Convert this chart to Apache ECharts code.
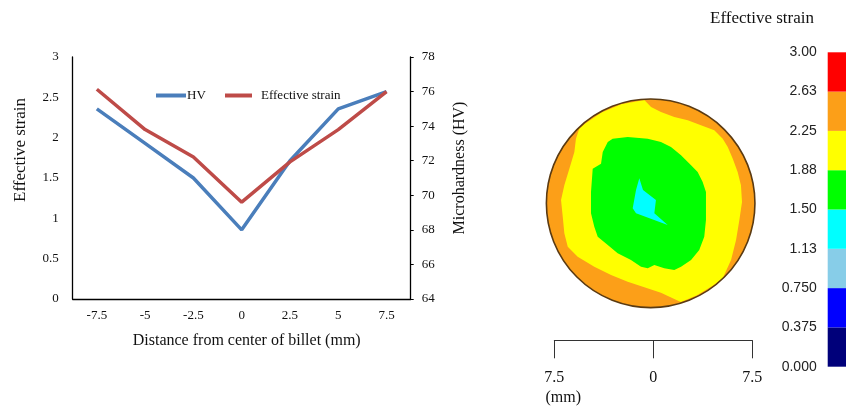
<!DOCTYPE html>
<html>
<head>
<meta charset="utf-8">
<script src="https://cdn.jsdelivr.net/npm/echarts@6/dist/echarts.min.js"></script>
<style>
  html, body { margin: 0; padding: 0; background: #fff; }
  #chart { width: 856px; height: 408px; }
</style>
</head>
<body>
<div id="chart"></div>
<script>
// ---- Profile across the billet ----
const positions = ['-7.5', '-5', '-2.5', '0', '2.5', '5', '7.5'];
const hardnessHV = [75, 73, 71, 68, 72, 75, 76];
const effectiveStrain = [2.6, 2.1, 1.76, 1.2, 1.7, 2.1, 2.57];

// ---- Colour scale for the strain map ----
const binEdges = [0, 0.375, 0.75, 1.125, 1.5, 1.875, 2.25, 2.625, 3.0];
const binColors = ['#00007a', '#0000ff', '#87cde8', '#00ffff', '#00ff00', '#ffff00', '#fc9f18', '#ff0000'];
const scaleLabels = ['0.000', '0.375', '0.750', '1.13', '1.50', '1.88', '2.25', '2.63', '3.00'];

// ---- Strain map of the billet cross-section (mm) ----
const diskCenter = [-0.2, 0];
const diskRadius = 7.9;
const diskLevel = 2.44;

const yellowZone = [
  [-5.15, 6.05], [-3.92, 6.88], [-2.43, 7.5], [-0.68, 7.82], [-0.17, 7.3], [0.58, 6.92],
  [1.59, 6.54], [2.61, 6.29], [3.61, 5.91], [4.62, 5.53], [5.26, 4.89], [5.64, 4.27],
  [6.02, 3.38], [6.39, 2.37], [6.64, 1.36], [6.72, 0.1], [6.52, -1.27], [6.27, -2.78],
  [5.89, -4.3], [5.26, -5.68], [4.5, -6.25], [3.28, -6.98], [2.08, -7.48], [1.47, -7.2],
  [0.58, -6.77], [-0.68, -6.36], [-1.94, -5.94], [-3.2, -5.43], [-4.47, -4.8], [-5.73, -4.05],
  [-6.48, -3.29], [-6.74, -2.27], [-6.86, -1.02], [-6.99, 0.25], [-6.74, 1.36], [-6.36, 2.62],
  [-5.98, 3.89], [-5.86, 4.89], [-5.61, 5.65]
];
const yellowLevel = 2.06;

const greenZone = [
  [-4.72, -0.05], [-4.72, 0.86], [-4.59, 2.62], [-3.96, 3.0], [-3.83, 3.89], [-3.45, 4.64],
  [-3.08, 4.89], [-1.94, 5.02], [-0.42, 4.89], [0.58, 4.64], [1.34, 4.27], [2.1, 3.64],
  [2.86, 2.88], [3.36, 2.37], [3.74, 1.61], [3.99, 0.86], [3.99, -0.05], [3.99, -1.27],
  [3.86, -2.53], [3.48, -3.54], [2.86, -4.3], [2.1, -4.8], [1.59, -5.05], [0.83, -4.92],
  [0.08, -4.67], [-0.42, -4.92], [-0.93, -4.8], [-1.69, -4.3], [-2.7, -3.79], [-3.45, -3.16],
  [-4.21, -2.53], [-4.47, -1.77], [-4.72, -0.76]
];
const greenLevel = 1.69;

const cyanZone = [
  [-1.06, 1.89], [-0.78, 1.01], [0.2, 0.25], [0.08, -0.76], [1.09, -1.64],
  [-1.31, -0.76], [-1.56, -0.38], [-1.31, 1.01]
];
const cyanLevel = 1.31;

const zones = [yellowZone, greenZone, cyanZone];
const zoneLevels = [yellowLevel, greenLevel, cyanLevel];

function levelColor(v) {
  for (let i = 0; i < binColors.length; i++) {
    if (v >= binEdges[i] && v < binEdges[i + 1]) return binColors[i];
  }
  return binColors[binColors.length - 1];
}

const serif = '"Liberation Serif", "Times New Roman", serif';
const sans = '"Liberation Sans", Arial, sans-serif';
const ink = '#111';

const chart = echarts.init(document.getElementById('chart'), null, { renderer: 'canvas' });

// item 0 = disk, 1..n = zones, last = disk outline
const mapItems = [[0, 0, 0]].concat(zones.map((z, i) => [0, 0, i + 1])).concat([[0, 0, zones.length + 1]]);

chart.setOption({
  animation: false,
  backgroundColor: '#fff',
  title: {
    text: 'Effective strain',
    left: 705, top: 5,
    textStyle: { fontFamily: serif, fontSize: 17, fontWeight: 'normal', color: ink }
  },
  legend: [
    {
      data: ['HV'], left: 151, top: 84, icon: 'rect', itemWidth: 30, itemHeight: 4,
      textStyle: { fontFamily: serif, fontSize: 13, color: ink, padding: [0, 0, 0, -4] }
    },
    {
      data: ['Effective strain'], left: 220, top: 84, icon: 'rect', itemWidth: 27, itemHeight: 4,
      textStyle: { fontFamily: serif, fontSize: 13, color: ink, padding: [0, 0, 0, 4] }
    }
  ],
  grid: [
    { left: 72.7, right: 445.3, top: 57, bottom: 109 },
    { left: 554.3, width: 198, top: 104.3, height: 198 },
    { left: 827.7, width: 18.3, top: 52.3, height: 314.4 }
  ],
  xAxis: [
    {
      gridIndex: 0, type: 'category', data: positions, boundaryGap: true,
      axisLine: { lineStyle: { color: '#000', width: 1.3 } },
      axisTick: { show: false },
      axisLabel: { fontFamily: serif, fontSize: 13, color: ink, margin: 10 },
      splitLine: { show: false },
      name: 'Distance from center of billet (mm)', nameLocation: 'middle', nameGap: 34,
      nameTextStyle: { fontFamily: serif, fontSize: 16, color: ink, padding: [0, 0, 0, 10] }
    },
    {
      // length scale under the map
      gridIndex: 1, type: 'value', min: -7.5, max: 7.5, interval: 7.5, position: 'bottom', offset: 38,
      axisLine: { show: true, onZero: false, lineStyle: { color: '#333', width: 1 } },
      axisTick: { show: true, length: 18, lineStyle: { color: '#333', width: 1 } },
      splitLine: { show: false },
      axisLabel: {
        margin: 27, fontFamily: serif, fontSize: 16, color: ink, lineHeight: 20,
        formatter: v => v < 0 ? '{a|' + Math.abs(v) + '}\n{b|(mm)}' : String(Math.abs(v)),
        rich: {
          a: { fontFamily: serif, fontSize: 16, color: ink, lineHeight: 20 },
          b: { fontFamily: serif, fontSize: 16, color: ink, lineHeight: 20, padding: [0, 0, 0, 18] }
        }
      }
    },
    { gridIndex: 2, type: 'value', min: 0, max: 1, show: false }
  ],
  yAxis: [
    {
      gridIndex: 0, type: 'value', min: 0, max: 3, interval: 0.5, position: 'left',
      axisLine: { show: true, lineStyle: { color: '#000', width: 1.3 } },
      axisTick: { show: false },
      splitLine: { show: false },
      axisLabel: { fontFamily: serif, fontSize: 13, color: ink, margin: 14 },
      name: 'Effective strain', nameLocation: 'middle', nameGap: 44,
      nameTextStyle: { fontFamily: serif, fontSize: 17, color: ink, padding: [0, 0, 0, 56] }
    },
    {
      gridIndex: 0, type: 'value', min: 64, max: 78, interval: 2, position: 'right',
      axisLine: { show: true, lineStyle: { color: '#000', width: 1.3 } },
      axisTick: { show: true, length: 3, lineStyle: { color: '#000' } },
      splitLine: { show: false },
      axisLabel: { fontFamily: serif, fontSize: 13, color: ink, margin: 11 },
      name: 'Microhardness (HV)', nameLocation: 'middle', nameGap: 41,
      nameTextStyle: { fontFamily: serif, fontSize: 16, color: ink, padding: [0, 0, 0, 20] }
    },
    { gridIndex: 1, type: 'value', min: -7.5, max: 7.5, show: false },
    {
      gridIndex: 2, type: 'value', min: 0, max: 3, interval: 0.375, position: 'left',
      axisLine: { show: false }, axisTick: { show: false }, splitLine: { show: false },
      axisLabel: {
        margin: 11, fontFamily: sans, fontSize: 14, color: '#222',
        formatter: v => scaleLabels[Math.round(v / 0.375)]
      }
    }
  ],
  series: [
    {
      name: 'HV', type: 'line', xAxisIndex: 0, yAxisIndex: 1, data: hardnessHV,
      symbol: 'none', lineStyle: { color: '#4a7ebb', width: 3.5 }, itemStyle: { color: '#4a7ebb' }
    },
    {
      name: 'Effective strain', type: 'line', xAxisIndex: 0, yAxisIndex: 0, data: effectiveStrain,
      symbol: 'none', lineStyle: { color: '#be4b48', width: 3.5 }, itemStyle: { color: '#be4b48' }
    },
    {
      // strain map: disk, nested level zones, outline
      type: 'custom', xAxisIndex: 1, yAxisIndex: 2, clip: false, silent: true,
      data: mapItems,
      renderItem: (params, api) => {
        const k = api.value(2);
        if (k === 0 || k === zones.length + 1) {
          const c = api.coord(diskCenter);
          const r = api.size([diskRadius, 0])[0];
          if (k === 0) {
            return { type: 'circle', z2: 0, shape: { cx: c[0], cy: c[1], r: r },
                     style: { fill: levelColor(diskLevel) } };
          }
          return { type: 'circle', z2: 10, shape: { cx: c[0], cy: c[1], r: r },
                   style: { fill: 'none', stroke: '#5a3a12', lineWidth: 1.6 } };
        }
        const pts = zones[k - 1].map(p => api.coord(p));
        return { type: 'polygon', z2: k, shape: { points: pts },
                 style: { fill: levelColor(zoneLevels[k - 1]) } };
      }
    },
    {
      // colour scale bar
      type: 'custom', xAxisIndex: 2, yAxisIndex: 3, silent: true,
      data: binColors.map((c, i) => [0, binEdges[i], binEdges[i + 1], i]),
      renderItem: (params, api) => {
        const lo = api.coord([0, api.value(1)]);
        const hi = api.coord([1, api.value(2)]);
        return { type: 'rect', shape: { x: lo[0], y: hi[1], width: hi[0] - lo[0], height: lo[1] - hi[1] },
                 style: { fill: binColors[api.value(3)] } };
      }
    }
  ]
});
</script>
</body>
</html>
